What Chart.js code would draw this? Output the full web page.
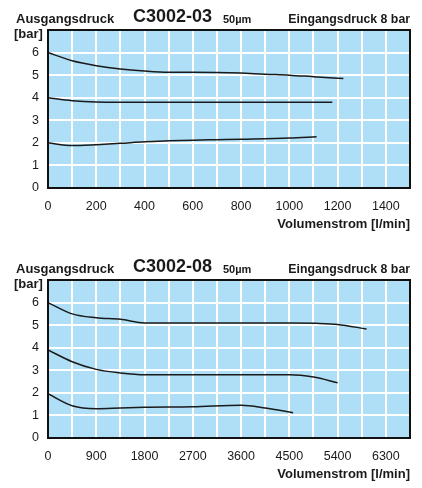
<!DOCTYPE html>
<html>
<head>
<meta charset="utf-8">
<script src="https://cdn.jsdelivr.net/npm/chart.js@4.4.1/dist/chart.umd.min.js"></script>
<style>
html, body { margin: 0; padding: 0; background: #fff; }
.box { position: relative; width: 422px; height: 250px; }
</style>
</head>
<body>
<div class="box"><canvas id="chart03" width="422" height="250"></canvas></div>
<div class="box"><canvas id="chart08" width="422" height="250"></canvas></div>
<script>
// C3002-03 curves (flow l/min, outlet pressure bar)
const flow03High = [0, 100, 200, 300, 400, 500, 600, 700, 800, 900, 1000, 1100, 1224];
const bar03High = [6.0, 5.64, 5.42, 5.27, 5.18, 5.13, 5.13, 5.12, 5.09, 5.04, 5.0, 4.93, 4.85];
const flow03Mid = [0, 100, 200, 300, 600, 900, 1178];
const bar03Mid = [4.0, 3.87, 3.81, 3.8, 3.8, 3.8, 3.8];
const flow03Low = [0, 100, 200, 300, 400, 500, 600, 700, 800, 1000, 1113];
const bar03Low = [2.0, 1.88, 1.92, 1.98, 2.05, 2.09, 2.12, 2.14, 2.16, 2.21, 2.27];

// C3002-08 curves
const flow08High = [0, 450, 900, 1350, 1800, 2700, 3600, 4500, 5000, 5400, 5940];
const bar08High = [6.0, 5.5, 5.33, 5.26, 5.1, 5.1, 5.1, 5.1, 5.08, 5.03, 4.83];
const flow08Mid = [0, 450, 900, 1350, 1800, 2700, 3600, 4500, 4950, 5400];
const bar08Mid = [3.9, 3.38, 3.04, 2.88, 2.8, 2.8, 2.8, 2.8, 2.7, 2.45];
const flow08Low = [0, 450, 900, 1350, 1800, 2700, 3600, 4050, 4570];
const bar08Low = [1.96, 1.43, 1.3, 1.33, 1.36, 1.38, 1.45, 1.33, 1.12];

const yTicks = [0, 1, 2, 3, 4, 5, 6];
const xLabels03 = [0, 200, 400, 600, 800, 1000, 1200, 1400];
const xLabels08 = [0, 900, 1800, 2700, 3600, 4500, 5400, 6300];

const fontFamily = "'Liberation Sans', Arial, sans-serif";

const plotFrame = {
    id: 'plotFrame',
    beforeDraw(chart) {
        const { ctx, chartArea: a } = chart;
        ctx.save();
        ctx.fillStyle = '#aedff6';
        ctx.fillRect(a.left, a.top, a.right - a.left, a.bottom - a.top);
        ctx.restore();
    },
    afterDraw(chart) {
        const { ctx, chartArea: a } = chart;
        const opts = chart.options.plugins.plotFrame;
        ctx.save();
        ctx.strokeStyle = '#111';
        ctx.lineWidth = 2;
        ctx.strokeRect(a.left, a.top, a.right - a.left, a.bottom - a.top);

        ctx.fillStyle = '#1a1a1a';
        ctx.textBaseline = 'alphabetic';
        ctx.textAlign = 'left';
        ctx.font = `bold 13px ${fontFamily}`;
        ctx.fillText('Ausgangsdruck', 16, 22.5);
        ctx.fillText('[bar]', 14, 37.5);
        ctx.font = `bold 18px ${fontFamily}`;
        ctx.fillText(opts.model, 133, 22);
        ctx.font = `bold 11px ${fontFamily}`;
        ctx.fillText('50µm', 223, 22.5);
        ctx.textAlign = 'right';
        ctx.font = `bold 12.3px ${fontFamily}`;
        ctx.fillText('Eingangsdruck 8 bar', 410, 22.5);
        ctx.restore();
    }
};

function curve(xs, ys) {
    return {
        data: xs.map((x, i) => ({ x: x, y: ys[i] })),
        borderColor: '#1a1a1a',
        borderWidth: 1.5,
        pointRadius: 0,
        cubicInterpolationMode: 'monotone',
        fill: false
    };
}

function createChart(id, model, maxFlow, step, xLabels, datasets) {
    new Chart(document.getElementById(id), {
        type: 'line',
        data: { datasets: datasets },
        plugins: [plotFrame],
        options: {
            responsive: false,
            animation: false,
            layout: { padding: { top: 30, right: 12, left: 0, bottom: 18 } },
            scales: {
                x: {
                    type: 'linear',
                    min: 0,
                    max: maxFlow,
                    afterFit: scale => { scale.height = 44; },
                    grid: { color: '#fff', lineWidth: 2, drawTicks: false },
                    border: { display: false },
                    ticks: {
                        stepSize: step,
                        padding: 11,
                        maxRotation: 0,
                        autoSkip: false,
                        color: '#1a1a1a',
                        font: { family: fontFamily, size: 12.5 },
                        callback: v => xLabels.includes(v) ? v : ''
                    },
                    title: {
                        display: true,
                        text: 'Volumenstrom [l/min]',
                        align: 'end',
                        color: '#1a1a1a',
                        padding: 0,
                        font: { family: fontFamily, size: 13, weight: 'bold' }
                    }
                },
                y: {
                    min: 0,
                    max: 7,
                    afterFit: scale => { scale.width = 48; },
                    grid: { color: '#fff', lineWidth: 2, drawTicks: false },
                    border: { display: false },
                    ticks: {
                        stepSize: 1,
                        padding: 9,
                        color: '#1a1a1a',
                        font: { family: fontFamily, size: 12.5 },
                        callback: v => yTicks.includes(v) ? v : ''
                    }
                }
            },
            plugins: {
                legend: { display: false },
                tooltip: { enabled: false },
                plotFrame: { model: model }
            }
        }
    });
}

createChart('chart03', 'C3002-03', 1500, 100, xLabels03, [
    curve(flow03High, bar03High),
    curve(flow03Mid, bar03Mid),
    curve(flow03Low, bar03Low)
]);
createChart('chart08', 'C3002-08', 6750, 450, xLabels08, [
    curve(flow08High, bar08High),
    curve(flow08Mid, bar08Mid),
    curve(flow08Low, bar08Low)
]);
</script>
</body>
</html>
